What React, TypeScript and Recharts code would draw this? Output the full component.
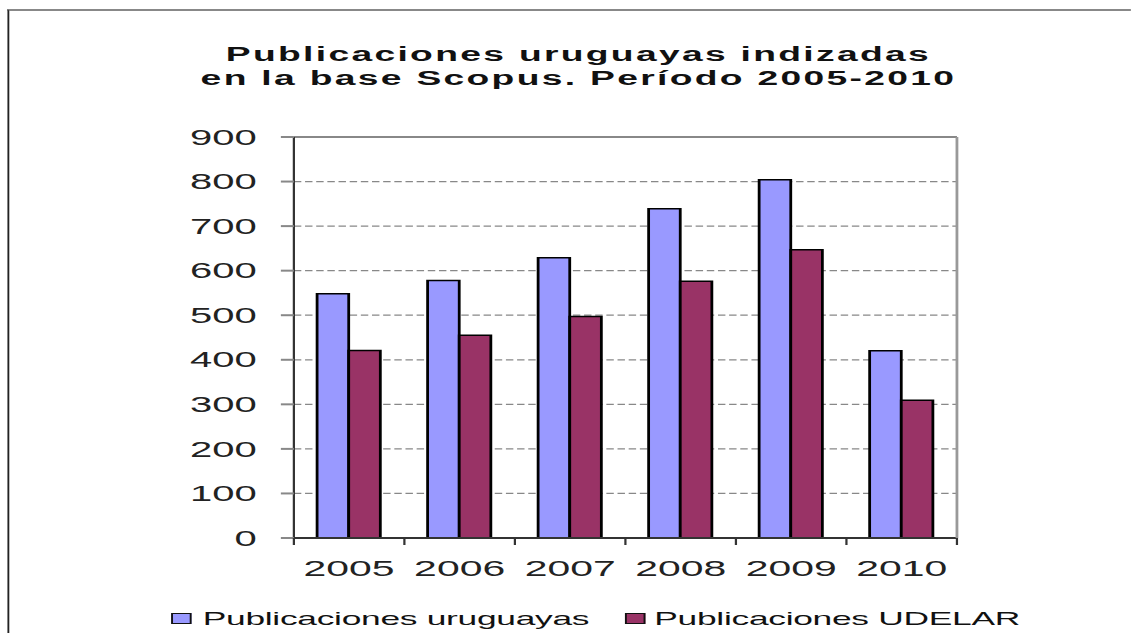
import { BarChart, Bar, XAxis, YAxis, CartesianGrid, ReferenceLine, Legend } from "recharts";

const years = ["2005", "2006", "2007", "2008", "2009", "2010"];
const uruguayas = [548, 578, 629, 739, 804, 420];
const udelar = [421, 455, 497, 576, 647, 309];
const yTicks = [0, 100, 200, 300, 400, 500, 600, 700, 800, 900];

const series = [
  { key: "uruguayas", name: "Publicaciones uruguayas", color: "#9999FF" },
  { key: "udelar", name: "Publicaciones UDELAR", color: "#993366" },
];

const data = years.map((year, i) => ({ year, uruguayas: uruguayas[i], udelar: udelar[i] }));

// the source picture is stretched sideways, so the chart is drawn narrow and scaled on x
const STRETCH = 1.86;
const W = 608;
const H = 633;
const X_LABEL_GAP = 22;
const font = '"Liberation Sans", Arial, sans-serif';

function LegendContent() {
  return (
    <div style={{ display: "flex", alignItems: "center", paddingLeft: 92, fontFamily: font, fontSize: 19, lineHeight: "22px", letterSpacing: -0.15, color: "#111" }}>
      {series.map((s, i) => (
        <span key={s.key} style={{ display: "flex", alignItems: "center", marginRight: i === 0 ? 19.6 : 0 }}>
          <span
            style={{
              display: "inline-block",
              width: 11,
              height: 11,
              background: s.color,
              border: "1px solid #111",
              boxSizing: "border-box",
              marginRight: i === 0 ? 6 : 4.4,
            }}
          />
          <span>{s.name}</span>
        </span>
      ))}
    </div>
  );
}

// year label plus the small tick marks that sit on the category boundaries
function YearTick(props: any) {
  const { x, y, payload, index, visibleTicksCount } = props;
  const half = payload.offset || 29.7;
  const axisY = y - X_LABEL_GAP;
  const last = index === visibleTicksCount - 1;
  return (
    <g>
      <line x1={x - half} x2={x - half} y1={axisY} y2={axisY + 7} stroke="#333" strokeWidth={1.2} />
      {last && <line x1={x + half} x2={x + half} y1={axisY} y2={axisY + 7} stroke="#333" strokeWidth={1.2} />}
      <text x={x} y={y} dy="0.71em" textAnchor="middle" fill="#222" fontSize={22} fontFamily={font}>
        {payload.value}
      </text>
    </g>
  );
}

export default function App() {
  return (
    <div
      style={{
        position: "absolute",
        left: 0,
        top: 0,
        width: W,
        height: H,
        background: "#fff",
        transform: `scaleX(${STRETCH})`,
        transformOrigin: "0 0",
        overflow: "hidden",
      }}
    >
      <div
        style={{
          position: "absolute",
          left: 3.5,
          top: 9,
          right: 0,
          bottom: 0,
          borderTop: "2px solid #888",
          borderLeft: "1.2px solid #222",
        }}
      />
      <div
        style={{
          position: "absolute",
          left: 0,
          top: 42,
          width: 622,
          textAlign: "center",
          fontFamily: font,
          fontWeight: "bold",
          fontSize: 20,
          lineHeight: "24px",
          letterSpacing: 1.25,
          color: "#111",
        }}
      >
        Publicaciones uruguayas indizadas
        <br />
        en la base Scopus. Período 2005-2010
      </div>
      <BarChart
        width={W}
        height={H}
        data={data}
        margin={{ top: 137, right: 93.5, left: 0, bottom: 55 }}
        barCategoryGap="21%"
        barGap={0}
        style={{ position: "absolute", left: 0, top: 0 }}
      >
        <CartesianGrid vertical={false} stroke="#888" strokeDasharray="4 2" strokeWidth={1.2} />
        <ReferenceLine y={900} stroke="#888" strokeWidth={2} />
        <XAxis
          dataKey="year"
          height={40}
          tickSize={0}
          tickMargin={X_LABEL_GAP}
          interval={0}
          tickLine={false}
          axisLine={{ stroke: "#333", strokeWidth: 2 }}
          tick={<YearTick />}
        />
        <YAxis
          width={158}
          domain={[0, 900]}
          ticks={yTicks}
          tickSize={7}
          tickMargin={13}
          axisLine={{ stroke: "#333", strokeWidth: 1.2 }}
          tickLine={{ stroke: "#888", strokeWidth: 2 }}
          tick={{ fill: "#222", fontSize: 21.5, fontFamily: font }}
        />
        <YAxis
          yAxisId="frame"
          orientation="right"
          width={0.01}
          domain={[0, 900]}
          tick={false}
          tickLine={false}
          axisLine={{ stroke: "#999", strokeWidth: 1.5 }}
        />
        {series.map((s) => (
          <Bar
            key={s.key}
            dataKey={s.key}
            name={s.name}
            fill={s.color}
            stroke="#000"
            strokeWidth={1.5}
            isAnimationActive={false}
          />
        ))}
        <Legend
          layout="horizontal"
          verticalAlign="middle"
          align="center"
          content={<LegendContent />}
          wrapperStyle={{ top: 607.5, left: 0, width: W }}
        />
      </BarChart>
    </div>
  );
}
